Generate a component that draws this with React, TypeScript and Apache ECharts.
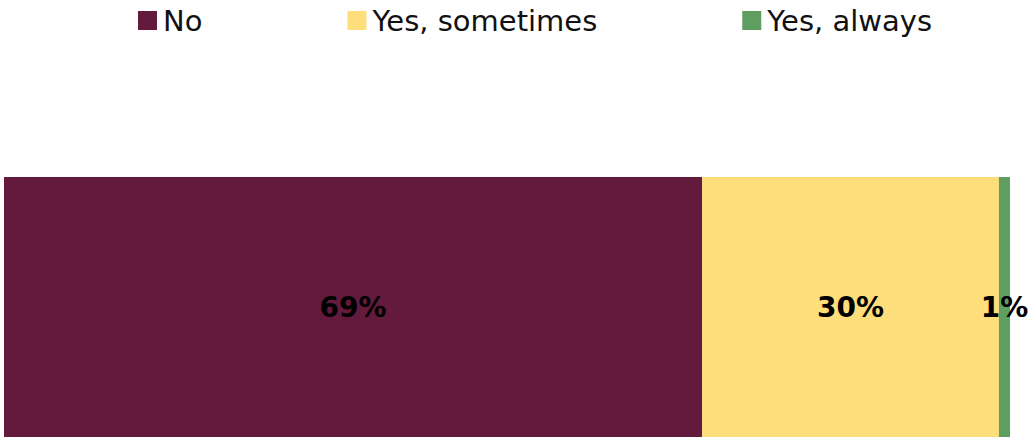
import React, { useEffect, useRef } from "react";
import * as echarts from "echarts";

const categories = ["Response"];
const seriesNames = ["No", "Yes, sometimes", "Yes, always"];
const noValues = [69.4];
const sometimesValues = [29.5];
const alwaysValues = [1.1];
const colors = ["#631A3D", "#FDDE7B", "#5E9E60"];

export default function App() {
  const ref = useRef<HTMLDivElement>(null);
  useEffect(() => {
    if (!ref.current) return;
    const chart = echarts.init(ref.current, null, { renderer: "svg" });
    const values = [noValues, sometimesValues, alwaysValues];
    chart.setOption({
      animation: false,
      textStyle: { fontFamily: "DejaVu Sans" },
      legend: {
        top: 1,
        left: 133,
        itemWidth: 19,
        itemHeight: 19,
        itemGap: 145,
        icon: "rect",
        textStyle: { fontSize: 29, color: "#111", fontFamily: "DejaVu Sans", padding: [0, 0, 0, 1] },
        data: seriesNames,
      },
      grid: { left: 4, right: 22, top: 177, bottom: 0, containLabel: false },
      xAxis: { type: "value", min: 0, max: 100, show: false },
      yAxis: { type: "category", data: categories, show: false },
      series: seriesNames.map((name, i) => ({
        name,
        type: "bar",
        stack: "total",
        barWidth: "100%",
        data: values[i],
        itemStyle: { color: colors[i] },
        label: {
          show: true,
          position: "inside",
          formatter: (p: any) => Math.round(p.value) + "%",
          color: "#000",
          fontWeight: "bold",
          fontSize: 28,
          fontFamily: "DejaVu Sans",
        },
      })),
    });
    return () => chart.dispose();
  }, []);
  return <div ref={ref} style={{ width: 1032, height: 437, position: "absolute", left: 0, top: 0 }} />;
}
